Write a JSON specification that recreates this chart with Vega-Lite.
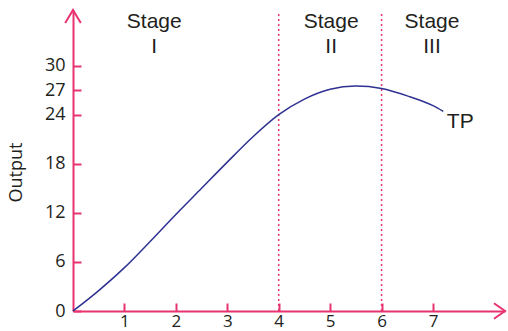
{
  "$schema": "https://vega.github.io/schema/vega-lite/v6.json",
  "width": 432,
  "height": 301,
  "autosize": {"type": "none"},
  "padding": {"left": 73, "top": 10, "right": 3, "bottom": 20},
  "background": "white",
  "config": {"view": {"stroke": null}},
  "datasets": {
    "curve": [
      {"x": 0, "y": 0}, {"x": 0.5, "y": 2.5}, {"x": 1, "y": 5.3}, {"x": 1.5, "y": 8.5},
      {"x": 2, "y": 11.8}, {"x": 2.5, "y": 15.0}, {"x": 3, "y": 18.2}, {"x": 3.5, "y": 21.3},
      {"x": 4, "y": 24}, {"x": 4.5, "y": 25.9}, {"x": 5, "y": 27.1}, {"x": 5.5, "y": 27.5},
      {"x": 6, "y": 27.2}, {"x": 6.5, "y": 26.3}, {"x": 7, "y": 25.1}, {"x": 7.2, "y": 24.4}
    ],
    "bounds": [{"x": 4, "y": 0, "y2": 36.4}, {"x": 6, "y": 0, "y2": 36.4}],
    "stages": [
      {"x": 1.58, "y": 34.6, "label": "Stage"}, {"x": 1.58, "y": 31.6, "label": "I"},
      {"x": 5.02, "y": 34.6, "label": "Stage"}, {"x": 5.02, "y": 31.6, "label": "II"},
      {"x": 6.98, "y": 34.6, "label": "Stage"}, {"x": 6.98, "y": 31.6, "label": "III"}
    ],
    "tp": [{"x": 7.53, "y": 22.4, "label": "TP"}],
    "arrowUp": [{"x": 0, "y": 36.8}],
    "arrowRight": [{"x": 8.4, "y": 0}]
  },
  "encoding": {
    "x": {
      "field": "x", "type": "quantitative",
      "scale": {"domain": [0, 8.4], "nice": false, "zero": false},
      "axis": {
        "values": [1, 2, 3, 4, 5, 6, 7], "title": null, "grid": false,
        "domainColor": "#e8336f", "domainWidth": 2, "tickColor": "#e8336f", "tickWidth": 2,
        "tickSize": -8, "labelPadding": 10, "labelFont": "Open Sans", "labelFontSize": 17,
        "labelColor": "#231f20", "labelFlush": false
      }
    },
    "y": {
      "field": "y", "type": "quantitative",
      "scale": {"domain": [0, 36.8], "nice": false, "zero": false},
      "axis": {
        "values": [0, 6, 12, 18, 24, 27, 30], "title": "Output", "grid": false,
        "domainColor": "#e8336f", "domainWidth": 2, "tickColor": "#e8336f", "tickWidth": 2,
        "tickSize": -8, "labelPadding": 16, "labelFont": "Open Sans", "labelFontSize": 18,
        "labelColor": "#231f20", "labelFlush": false,
        "titleFont": "Open Sans", "titleFontSize": 18, "titleFontWeight": "normal",
        "titleColor": "#231f20", "titleX": -48, "titleY": 162
      }
    }
  },
  "layer": [
    {
      "data": {"name": "bounds"},
      "mark": {"type": "rule", "color": "#e8336f", "strokeWidth": 1.5, "strokeDash": [2, 3]},
      "encoding": {"y2": {"field": "y2"}}
    },
    {
      "data": {"name": "curve"},
      "mark": {"type": "line", "interpolate": "monotone", "color": "#2e3192", "strokeWidth": 1.5}
    },
    {
      "data": {"name": "stages"},
      "mark": {"type": "text", "font": "Liberation Sans", "fontSize": 21, "color": "#231f20", "align": "center", "baseline": "alphabetic"},
      "encoding": {"text": {"field": "label"}}
    },
    {
      "data": {"name": "tp"},
      "mark": {"type": "text", "font": "Liberation Sans", "fontSize": 21, "color": "#231f20", "align": "center", "baseline": "alphabetic"},
      "encoding": {"text": {"field": "label"}}
    },
    {
      "data": {"name": "arrowUp"},
      "mark": {"type": "point", "shape": "M-0.6,1L0,0L0.6,1", "size": 676, "filled": false, "stroke": "#e8336f", "strokeWidth": 2, "opacity": 1, "clip": false}
    },
    {
      "data": {"name": "arrowRight"},
      "mark": {"type": "point", "shape": "M-1,-0.7L0,0L-1,0.7", "size": 484, "filled": false, "stroke": "#e8336f", "strokeWidth": 2, "opacity": 1, "clip": false}
    }
  ]
}
